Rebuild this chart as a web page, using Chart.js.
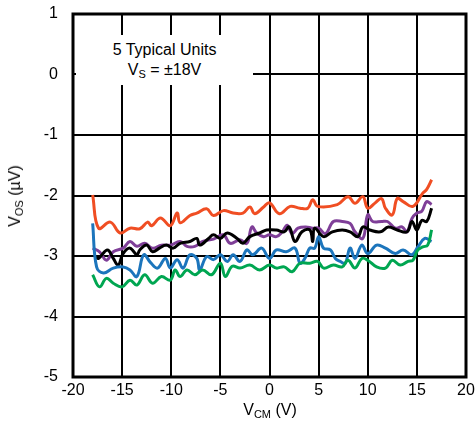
<!DOCTYPE html>
<html>
<head>
<meta charset="utf-8">
<script src="https://cdn.jsdelivr.net/npm/chart.js@4"></script>
<style>
  body { margin: 0; background: #fff; }
  #wrap { position: relative; width: 476px; height: 434px; font-family: "Liberation Sans", Arial, sans-serif; color: #000; }
  #chart { position: absolute; left: 0; top: 0; }
  .lbl { position: absolute; font-size: 16px; white-space: nowrap; line-height: 1; }
  .lbl sub { font-size: 11px; vertical-align: -3px; }
  #note { position: absolute; left: 76px; top: 35px; width: 177px; height: 50px; background: #fff; text-align: center; font-size: 16px; line-height: 20px; padding-top: 5px; box-sizing: border-box; }
  #note sub { font-size: 11px; vertical-align: -3px; }
</style>
</head>
<body>
<div id="wrap">
  <canvas id="chart" width="476" height="434"></canvas>
  <div id="note">5 Typical Units<br>V<sub>S</sub> = ±18V</div>
  <div class="lbl" id="xt" style="left:270px; top:402px; transform:translateX(-50%);">V<sub>CM</sub> (V)</div>
  <div class="lbl" id="yt" style="left:16px; top:196px; transform:translate(-50%,-50%) rotate(-90deg);">V<sub>OS</sub> (µV)</div>
</div>
<script>
const xTicks = [-20, -15, -10, -5, 0, 5, 10, 15, 20];
const yTicks = [-5, -4, -3, -2, -1, 0, 1];

const orangeX = [-18, -17.4, -16.2, -15.2, -14.2, -13.2, -12.4, -12, -11.1, -10.1, -9.4, -9.1, -8.1, -7.4, -6.4, -5.7, -4.7, -3.7, -2.7, -2, -1.5, -0.6, 0, 1, 2.1, 3.1, 3.9, 4.4, 4.9, 6.9, 8.0, 8.7, 9.5, 10, 10.7, 11.4, 11.8, 12.5, 13, 13.6, 14.6, 15.6, 16, 16.5];
const orangeY = [-1.99, -2.54, -2.44, -2.62, -2.54, -2.55, -2.44, -2.5, -2.37, -2.5, -2.29, -2.45, -2.33, -2.29, -2.22, -2.33, -2.25, -2.29, -2.29, -2.19, -2.3, -2.19, -2.12, -2.3, -2.18, -2.21, -2.21, -2.07, -2.18, -2.15, -2.02, -2.13, -2.02, -2.21, -2.13, -2.05, -2.21, -2.32, -2.05, -2.1, -2.18, -1.96, -1.9, -1.74];

const blackX = [-17.7, -17.4, -16.5, -15.9, -15.4, -14.9, -14.2, -13.5, -13.2, -12.5, -11.9, -11.2, -10.5, -9.8, -9.1, -8.1, -7.4, -7.1, -6.2, -5.7, -5, -4.3, -3.3, -2.7, -2, -1, -0.3, 0.7, 1.5, 2, 2.6, 3.3, 4.1, 4.4, 4.6, 5.5, 6.4, 7.4, 8.2, 9.0, 9.5, 10.2, 11.3, 12.1, 13, 14, 14.5, 15, 15.5, 16, 16.5];
const blackY = [-3.02, -3.04, -2.9, -3.04, -3.15, -2.96, -2.87, -2.98, -2.9, -2.82, -2.93, -2.87, -2.82, -2.87, -2.79, -2.76, -2.71, -2.82, -2.71, -2.65, -2.71, -2.62, -2.71, -2.79, -2.68, -2.62, -2.57, -2.57, -2.6, -2.52, -2.76, -2.6, -2.57, -2.76, -2.54, -2.68, -2.6, -2.57, -2.6, -2.68, -2.52, -2.57, -2.6, -2.52, -2.57, -2.6, -2.43, -2.57, -2.41, -2.43, -2.21];

const purpleX = [-18, -17.3, -16.6, -15.9, -14.9, -14.2, -13.5, -12.7, -11.9, -11, -10.1, -9.1, -8.4, -7.6, -6.8, -5.7, -4.7, -4, -3, -2.3, -1.8, -1.3, -0.6, 0, 0.7, 1.3, 1.8, 2.3, 2.9, 3.7, 4.4, 5, 5.7, 6.5, 7.4, 8.2, 8.7, 9.5, 10, 10.5, 11.4, 12, 12.8, 13.5, 14, 14.5, 15, 15.5, 16, 16.5];
const purpleY = [-2.87, -2.93, -3.07, -2.93, -2.87, -2.76, -2.84, -2.79, -2.87, -2.82, -2.82, -2.76, -2.84, -2.84, -2.76, -2.72, -2.65, -2.79, -2.73, -2.79, -2.52, -2.62, -2.68, -2.65, -2.68, -2.6, -2.49, -2.63, -2.54, -2.52, -2.54, -2.54, -2.63, -2.43, -2.43, -2.46, -2.6, -2.71, -2.32, -2.43, -2.43, -2.43, -2.54, -2.52, -2.6, -2.38, -2.29, -2.26, -2.1, -2.15];

const blueX = [-18, -17.6, -16.9, -15.9, -14.9, -14.2, -13.5, -12.8, -12.1, -11.4, -10.6, -10.1, -9.4, -8.8, -8.1, -7.4, -7.1, -6.4, -5.7, -5, -4.3, -3.7, -3, -2.3, -1.7, -0.8, 0, 0.7, 1.7, 2.6, 3.1, 3.6, 4.1, 4.6, 5, 5.5, 6.2, 6.7, 7.2, 7.7, 8.2, 8.7, 9.4, 10, 10.9, 11.8, 12.8, 13.6, 14.5, 15.1, 15.8, 16.5];
const blueY = [-2.46, -3.18, -3.28, -3.2, -3.18, -3.23, -3.34, -2.98, -3.11, -3.2, -3.04, -3.2, -3.06, -3.2, -2.98, -3.04, -3.23, -3.01, -3.06, -2.98, -3.09, -2.98, -3.09, -2.9, -2.98, -2.87, -3.04, -2.9, -2.93, -2.87, -3.12, -3.04, -2.87, -2.87, -2.68, -2.87, -2.9, -3.04, -3.09, -3.12, -2.87, -3.04, -2.82, -2.96, -2.82, -2.87, -2.96, -2.9, -2.98, -2.85, -2.71, -2.76];

const greenX = [-18, -17.3, -16.6, -15.9, -15, -14.2, -13.5, -12.7, -11.9, -11, -10.1, -9.6, -9.1, -8.4, -7.6, -6.8, -5.9, -5, -4.5, -3.8, -3, -2, -1, 0, 0.7, 1.5, 2.3, 3.1, 4.1, 4.9, 5.5, 6.5, 7.4, 8, 8.7, 9.4, 10, 10.9, 11.8, 12.5, 13.3, 14.1, 14.6, 15.1, 15.6, 16.1, 16.5];
const greenY = [-3.31, -3.51, -3.37, -3.45, -3.51, -3.4, -3.48, -3.31, -3.45, -3.34, -3.4, -3.23, -3.34, -3.23, -3.31, -3.23, -3.31, -3.12, -3.34, -3.17, -3.2, -3.15, -3.23, -3.15, -3.2, -3.18, -3.26, -3.12, -3.12, -3.09, -3.2, -3.15, -3.18, -3.07, -3.2, -3.04, -3.07, -3.18, -3.2, -3.07, -3.15, -3.09, -3.07, -2.9, -2.85, -2.82, -2.57];

function pts(xs, ys) {
  return xs.map((x, i) => ({ x: x, y: ys[i] }));
}

function line(xs, ys, color) {
  return {
    data: pts(xs, ys),
    borderColor: color,
    borderWidth: 3,
    pointRadius: 0,
    fill: false,
    tension: 0.4
  };
}

// thick frame round the plot area
const frame = {
  id: 'frame',
  afterDraw(chart) {
    const a = chart.chartArea, ctx = chart.ctx;
    ctx.save();
    ctx.strokeStyle = '#000';
    ctx.lineWidth = 3;
    ctx.strokeRect(a.left, a.top, a.right - a.left, a.bottom - a.top);
    ctx.restore();
  }
};

const tickFont = { family: '"Liberation Sans", Arial, sans-serif', size: 16 };

new Chart(document.getElementById('chart').getContext('2d'), {
  type: 'line',
  data: {
    datasets: [
      line(greenX, greenY, '#00a651'),
      line(blueX, blueY, '#1c75bc'),
      line(blackX, blackY, '#000000'),
      line(purpleX, purpleY, '#7f3f98'),
      line(orangeX, orangeY, '#f04e23')
    ]
  },
  options: {
    responsive: false,
    animation: false,
    layout: { padding: { left: 0, right: 10, top: 14, bottom: 0 } },
    plugins: { legend: { display: false }, tooltip: { enabled: false } },
    scales: {
      x: {
        type: 'linear',
        min: -20, max: 20,
        afterBuildTicks: s => { s.ticks = xTicks.map(v => ({ value: v })); },
        afterFit: s => { s.height = 57; s.paddingLeft = 0; s.paddingRight = 0; },
        grid: { color: '#000', lineWidth: 2, drawTicks: false },
        border: { display: false },
        ticks: { color: '#000', font: tickFont, padding: 4, maxRotation: 0 }
      },
      y: {
        min: -5, max: 1,
        afterBuildTicks: s => { s.ticks = yTicks.map(v => ({ value: v })); },
        afterFit: s => { s.width = 73; s.paddingTop = 0; s.paddingBottom = 0; },
        grid: { color: '#000', lineWidth: 2, drawTicks: false },
        border: { display: false },
        ticks: { color: '#000', font: tickFont, padding: 15 }
      }
    }
  },
  plugins: [frame]
});
</script>
</body>
</html>
